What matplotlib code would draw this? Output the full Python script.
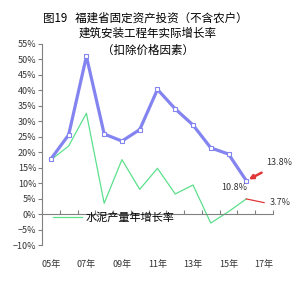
import numpy as np
import matplotlib.pyplot as plt
import matplotlib.transforms as mtransforms

plt.rcParams['font.family'] = ['Noto Sans CJK SC', 'DejaVu Sans']

years = ['05年', '06年', '07年', '08年', '09年', '10年', '11年', '12年', '13年', '14年', '15年', '16年', '17年']
invest = [17.8, 25.6, 51.0, 25.9, 23.6, 27.3, 40.3, 34.0, 28.8, 21.4, 19.4, 10.8]
invest_17 = 13.8
cement = [17.5, 22.0, 32.6, 3.5, 17.6, 8.0, 14.8, 6.5, 9.4, -2.9, 0.8, 4.9]
cement_17 = 3.7

x = np.arange(len(invest))
x17 = len(years) - 1

fig = plt.figure(figsize=(2.97, 2.91), dpi=100)
ax = fig.add_axes([0.1414, 0.158, 0.919 - 0.1414, 0.849 - 0.158])

blue = '#8484F0'
green = '#5CE08C'
red = '#E03838'

ax.plot(x, invest, color=blue, lw=2.3, marker='s', ms=3, mfc='white', mec=blue, mew=0.8, zorder=3)
ax.annotate('', xy=(x17, invest_17), xytext=(x[-1], invest[-1]),
            arrowprops=dict(arrowstyle='<|-', color=red, lw=1.8, mutation_scale=6), zorder=4)
ax.plot(x, cement, color=green, lw=0.9, label='水泥产量年增长率', zorder=2)
ax.plot([x[-1], x17], [cement[-1], cement_17], color=red, lw=0.9, zorder=2)

ax.text(x[-1] + 0.05, invest[-1] - 2.2, '10.8%', fontsize=6.5, ha='right', va='center', color='#333333')
ax.text(x17 + 0.1, invest_17 + 2.8, '13.8%', fontsize=6.5, ha='left', va='center', color='#333333')
ax.text(x17 + 0.3, cement_17 + 0.2, '3.7%', fontsize=6.5, ha='left', va='center', color='#333333')

ax.set_xlim(-0.5, len(years) - 0.5)
ax.set_ylim(-10, 55)
ax.set_yticks(np.arange(-10, 56, 5))
ax.set_yticklabels([f'{v}%' if v >= 0 else f'\u2212{-v}%' for v in range(-10, 56, 5)], fontsize=6.5, color='#333333')
ax.tick_params(axis='y', direction='out', length=3, color='#808080', pad=1)

ax.spines['top'].set_visible(False)
ax.spines['right'].set_visible(False)
ax.spines['left'].set_color('#808080')
ax.spines['bottom'].set_color('#808080')
ax.spines['bottom'].set_position(('data', 0))
ax.set_xticks(np.arange(-0.5, len(years), 1.0))
ax.set_xticklabels([])
ax.tick_params(axis='x', direction='in', length=3, color='#808080')

trans = mtransforms.blended_transform_factory(ax.transData, ax.transAxes)
for i, lab in enumerate(years):
    if i % 2 == 0:
        ax.text(i, -0.095, lab, transform=trans, ha='center', va='center', fontsize=6.5, color='#333333')

leg = ax.legend(loc='center left', bbox_to_anchor=(0.048, 0.134), frameon=False, fontsize=8,
                handlelength=2.6, handletextpad=0.35, borderaxespad=0, borderpad=0)
leg.set_zorder(5)

fig.text(0.488, 0.938, '图19   福建省固定资产投资（不含农户）', ha='center', va='center', fontsize=8.3)
fig.text(0.496, 0.887, '建筑安装工程年实际增长率', ha='center', va='center', fontsize=8.3)
fig.text(0.5, 0.828, '（扣除价格因素）', ha='center', va='center', fontsize=8.3)

fig.savefig('out.png', dpi=100)
